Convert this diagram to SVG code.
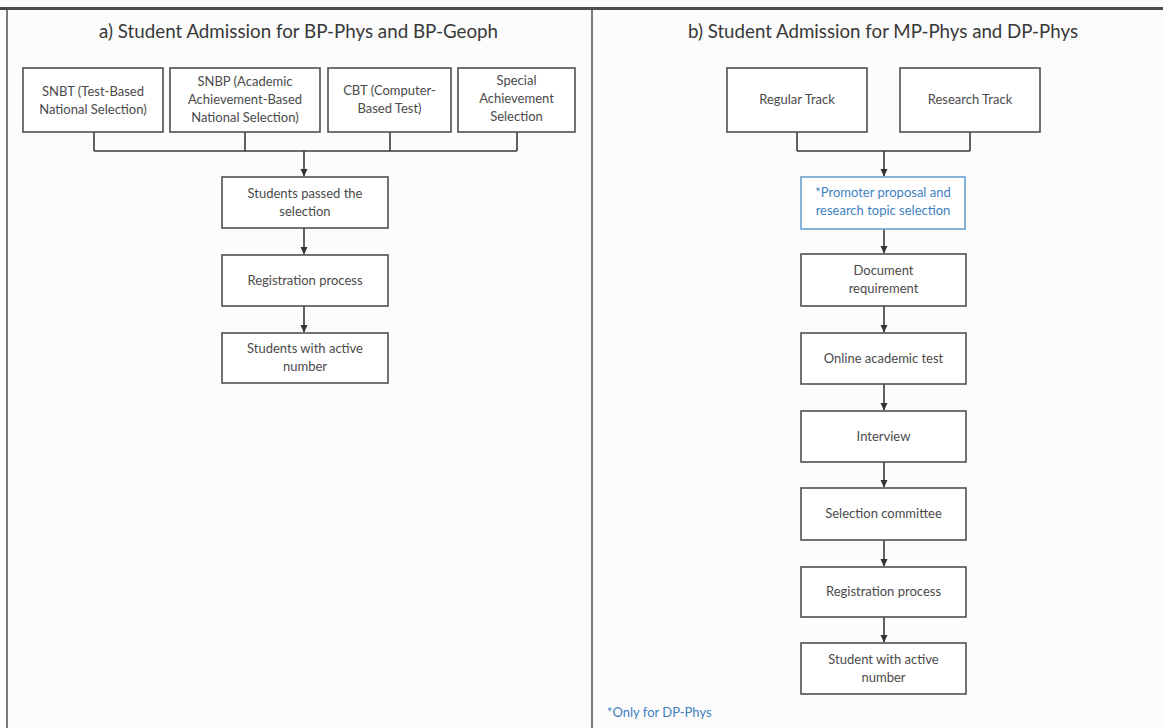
<svg xmlns="http://www.w3.org/2000/svg" width="1163" height="728" viewBox="0 0 1163 728">
<style>
.bg{fill:#fcfcfc}
.box{fill:#ffffff;stroke:#4f4f4f;stroke-width:1.6}
.blue{fill:#ffffff;stroke:#6aa0cf;stroke-width:1.6}
.t{font-family:Lato,"Open Sans","Liberation Sans",sans-serif;font-size:13px;fill:#4a4a4a;text-anchor:middle}
.tb{font-family:Lato,"Open Sans","Liberation Sans",sans-serif;font-size:13px;fill:#3f7fbf;text-anchor:middle}
.title{font-family:Lato,"Open Sans","Liberation Sans",sans-serif;font-size:18.5px;fill:#383838;text-anchor:middle}
.note{font-family:Lato,"Open Sans","Liberation Sans",sans-serif;font-size:13px;fill:#3f7fbf}
.c{fill:none;stroke:#3a3a3a;stroke-width:1.6}
</style>
<defs>
<marker id="arr" markerWidth="8" markerHeight="8" refX="7" refY="4" orient="auto" markerUnits="userSpaceOnUse">
<path d="M0,0.5 L7.5,4 L0,7.5 Z" fill="#333"/>
</marker>
</defs>
<rect class="bg" x="0" y="0" width="1163" height="728"/>
<rect x="0" y="7" width="1163" height="3" fill="#504b48"/>
<rect x="6" y="10" width="2" height="718" fill="#7a7a7a"/>
<rect x="591" y="10" width="2" height="718" fill="#7a7a7a"/>

<text class="title" x="298.5" y="38" textLength="399" lengthAdjust="spacingAndGlyphs">a) Student Admission for BP-Phys and BP-Geoph</text>
<text class="title" x="883" y="38" textLength="390" lengthAdjust="spacingAndGlyphs">b) Student Admission for MP-Phys and DP-Phys</text>

<g id="connectors">
<path class="c" d="M94,132 V151 M245,132 V151 M390,132 V151 M517,132 V151 M94,151 H517"/>
<path class="c" d="M304,151 V176" marker-end="url(#arr)"/>
<path class="c" d="M304,228 V254" marker-end="url(#arr)"/>
<path class="c" d="M304,306 V332" marker-end="url(#arr)"/>
<path class="c" d="M797,132 V151 M970,132 V151 M797,151 H970"/>
<path class="c" d="M884,151 V176" marker-end="url(#arr)"/>
<path class="c" d="M884,229 V253" marker-end="url(#arr)"/>
<path class="c" d="M884,306 V332" marker-end="url(#arr)"/>
<path class="c" d="M884,384 V410" marker-end="url(#arr)"/>
<path class="c" d="M884,462 V487" marker-end="url(#arr)"/>
<path class="c" d="M884,540 V566" marker-end="url(#arr)"/>
<path class="c" d="M884,617 V642" marker-end="url(#arr)"/>
</g>

<g id="snbt">
<rect class="box" x="23" y="68" width="140" height="64"/>
<text class="t" x="93" y="96">SNBT (Test-Based</text>
<text class="t" x="93" y="114">National Selection)</text>
</g>
<g id="snbp">
<rect class="box" x="170" y="68" width="150" height="64"/>
<text class="t" x="245" y="86">SNBP (Academic</text>
<text class="t" x="245" y="104">Achievement-Based</text>
<text class="t" x="245" y="122">National Selection)</text>
</g>
<g id="cbt">
<rect class="box" x="328" y="68" width="123" height="64"/>
<text class="t" x="389.5" y="95">CBT (Computer-</text>
<text class="t" x="389.5" y="113">Based Test)</text>
</g>
<g id="special">
<rect class="box" x="458" y="68" width="117" height="64"/>
<text class="t" x="516.5" y="85">Special</text>
<text class="t" x="516.5" y="103">Achievement</text>
<text class="t" x="516.5" y="121">Selection</text>
</g>
<g id="passed">
<rect class="box" x="222" y="177" width="166" height="51"/>
<text class="t" x="305" y="198">Students passed the</text>
<text class="t" x="305" y="216">selection</text>
</g>
<g id="reg-a">
<rect class="box" x="222" y="255" width="166" height="51"/>
<text class="t" x="305" y="285">Registration process</text>
</g>
<g id="active-a">
<rect class="box" x="222" y="333" width="166" height="50"/>
<text class="t" x="305" y="353">Students with active</text>
<text class="t" x="305" y="371">number</text>
</g>

<g id="regular">
<rect class="box" x="727" y="68" width="140" height="64"/>
<text class="t" x="797" y="104">Regular Track</text>
</g>
<g id="research">
<rect class="box" x="900" y="68" width="140" height="64"/>
<text class="t" x="970" y="104">Research Track</text>
</g>
<g id="promoter">
<rect class="blue" x="801" y="177" width="164" height="52"/>
<text class="tb" x="883" y="197">*Promoter proposal and</text>
<text class="tb" x="883" y="215">research topic selection</text>
</g>
<g id="document">
<rect class="box" x="801" y="254" width="165" height="52"/>
<text class="t" x="883.5" y="275">Document</text>
<text class="t" x="883.5" y="293">requirement</text>
</g>
<g id="online">
<rect class="box" x="801" y="333" width="165" height="51"/>
<text class="t" x="883.5" y="363">Online academic test</text>
</g>
<g id="interview">
<rect class="box" x="801" y="411" width="165" height="51"/>
<text class="t" x="883.5" y="441">Interview</text>
</g>
<g id="committee">
<rect class="box" x="801" y="488" width="165" height="52"/>
<text class="t" x="883.5" y="518">Selection committee</text>
</g>
<g id="reg-b">
<rect class="box" x="801" y="567" width="165" height="50"/>
<text class="t" x="883.5" y="596">Registration process</text>
</g>
<g id="active-b">
<rect class="box" x="801" y="643" width="165" height="51"/>
<text class="t" x="883.5" y="664">Student with active</text>
<text class="t" x="883.5" y="682">number</text>
</g>
<text class="note" x="607" y="717">*Only for DP-Phys</text>
</svg>
